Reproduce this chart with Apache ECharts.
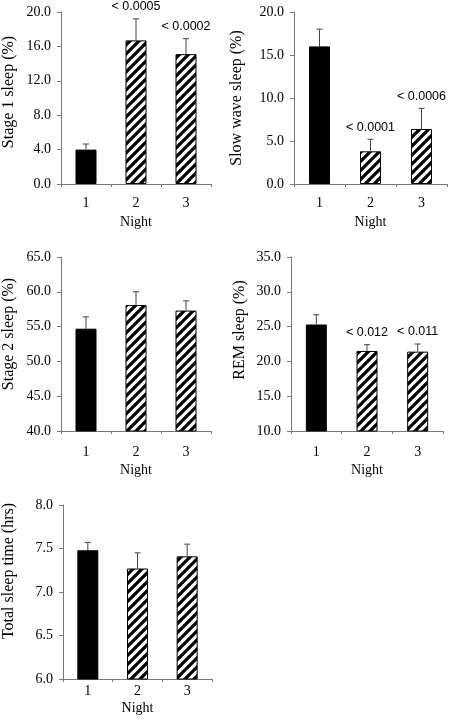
<!DOCTYPE html>
<html><head><meta charset="utf-8">
<script src="https://cdn.jsdelivr.net/npm/echarts@6/dist/echarts.min.js"></script>
<style>html,body{margin:0;padding:0;background:#fff}#c{width:450px;height:724px}</style>
</head><body><div id="c"></div>
<script>
// ---- data ----
const nights = ['1', '2', '3'];

const stage1Mean = [4.0, 16.7, 15.1];
const stage1Sem  = [0.65, 2.5, 1.8];
const stage1P    = ['', '< 0.0005', '< 0.0002'];
const stage1Axis = [0, 20, 4];

const swsMean = [16.0, 3.8, 6.4];
const swsSem  = [2.0, 1.4, 2.4];
const swsP    = ['', '< 0.0001', '< 0.0006'];
const swsAxis = [0, 20, 5];

const stage2Mean = [54.7, 58.1, 57.3];
const stage2Sem  = [1.7, 1.9, 1.4];
const stage2P    = ['', '', ''];
const stage2Axis = [40, 65, 5];

const remMean = [25.3, 21.5, 21.4];
const remSem  = [1.4, 0.9, 1.1];
const remP    = ['', '< 0.012', '< 0.011'];
const remAxis = [10, 35, 5];

const tstMean = [7.48, 7.27, 7.41];
const tstSem  = [0.09, 0.18, 0.14];
const tstP    = ['', '', ''];
const tstAxis = [6.0, 8.0, 0.5];

const yNames = ['Stage 1 sleep (%)', 'Slow wave sleep (%)', 'Stage 2 sleep (%)', 'REM sleep (%)', 'Total sleep time (hrs)'];
const xName = 'Night';

// ---- layout / styles ----
const panels = [
  {mean: stage1Mean, sem: stage1Sem, p: stage1P, axis: stage1Axis, dec: 1,
   grid: {left: 59, top: 12, width: 152, height: 172}, nameGap: 44, namePad: 12, lblMargin: 12, xNameGap: 31},
  {mean: swsMean, sem: swsSem, p: swsP, axis: swsAxis, dec: 1,
   grid: {left: 294, top: 12, width: 153, height: 172}, nameGap: 49, namePad: 0, lblMargin: 12, xNameGap: 31},
  {mean: stage2Mean, sem: stage2Sem, p: stage2P, axis: stage2Axis, dec: 1,
   grid: {left: 59, top: 257, width: 152, height: 174}, nameGap: 44, namePad: 20, lblMargin: 14, xNameGap: 32},
  {mean: remMean, sem: remSem, p: remP, axis: remAxis, dec: 1,
   grid: {left: 291, top: 257, width: 152, height: 174}, nameGap: 43, namePad: 28, lblMargin: 14, xNameGap: 32},
  {mean: tstMean, sem: tstSem, p: tstP, axis: tstAxis, dec: 1,
   grid: {left: 60, top: 505, width: 152, height: 174}, nameGap: 46, namePad: 42, lblMargin: 5, xNameGap: 22}
];

const serif = "'Times New Roman','Liberation Serif',serif";
const sans = "Arial,'Liberation Sans',sans-serif";
const axisGray = '#7a7a7a';

function hatch() {
  const n = 9;
  const c = document.createElement('canvas');
  c.width = n; c.height = n;
  const g = c.getContext('2d');
  g.fillStyle = '#fff'; g.fillRect(0, 0, n, n);
  g.strokeStyle = '#000'; g.lineWidth = 3.2;
  g.beginPath();
  for (const k of [-n, 0, n]) { g.moveTo(k - 1, n + 1); g.lineTo(k + n + 1, -1); }
  g.stroke();
  return c;
}
const hatchPattern = {image: hatch(), repeat: 'repeat'};

const grids = [], xAxes = [], yAxes = [], series = [];
panels.forEach((P, i) => {
  grids.push(Object.assign({containLabel: false}, P.grid));
  xAxes.push({
    type: 'category', gridIndex: i, data: nights, boundaryGap: true,
    name: xName, nameLocation: 'middle', nameGap: P.xNameGap,
    nameTextStyle: {fontFamily: serif, fontSize: 14, color: '#000'},
    axisLine: {lineStyle: {color: axisGray, width: 1}},
    axisTick: {show: true, length: 3, lineStyle: {color: axisGray}},
    axisLabel: {fontFamily: serif, fontSize: 14, color: '#000', margin: P.lblMargin},
    splitLine: {show: false}
  });
  yAxes.push({
    type: 'value', gridIndex: i, min: P.axis[0], max: P.axis[1], interval: P.axis[2],
    name: yNames[i], nameLocation: 'middle', nameGap: P.nameGap,
    nameTextStyle: {fontFamily: serif, fontSize: 16, color: '#000', padding: [0, 0, 0, P.namePad]},
    axisLine: {show: true, lineStyle: {color: axisGray, width: 1}},
    axisTick: {show: true, length: 4, lineStyle: {color: axisGray}},
    axisLabel: {fontFamily: serif, fontSize: 14, color: '#000', margin: 10,
      formatter: v => v.toFixed(P.dec)},
    splitLine: {show: false}
  });
  series.push({
    type: 'bar', xAxisIndex: i, yAxisIndex: i, barWidth: 21, silent: true,
    data: P.mean.map((v, k) => ({
      value: v,
      itemStyle: k === 0 ? {color: '#000', borderColor: '#000', borderWidth: 1}
                         : {color: hatchPattern, borderColor: '#000', borderWidth: 1}
    }))
  });
  series.push({
    type: 'custom', xAxisIndex: i, yAxisIndex: i, silent: true, z: 5,
    data: P.mean.map((v, k) => [k, v, P.sem[k]]),
    renderItem: (params, api) => {
      const x = api.value(0), m = api.value(1), s = api.value(2);
      const base = api.coord([x, m]);
      const top = api.coord([x, m + s]);
      const children = [
        {type: 'line', shape: {x1: base[0], y1: base[1], x2: top[0], y2: top[1]},
         style: {stroke: '#444', lineWidth: 1}},
        {type: 'line', shape: {x1: top[0] - 3, y1: top[1], x2: top[0] + 3, y2: top[1]},
         style: {stroke: '#444', lineWidth: 1}}
      ];
      const lbl = P.p[params.dataIndex];
      if (lbl) {
        children.push({type: 'text', x: top[0], y: top[1] - 12,
          style: {text: lbl, fill: '#000', font: '12.5px ' + sans, align: 'center', verticalAlign: 'middle'}});
      }
      return {type: 'group', children: children};
    }
  });
});

const chart = echarts.init(document.getElementById('c'), null, {renderer: 'canvas'});
chart.setOption({
  animation: false,
  backgroundColor: '#fff',
  grid: grids, xAxis: xAxes, yAxis: yAxes, series: series
});
</script>
</body></html>
